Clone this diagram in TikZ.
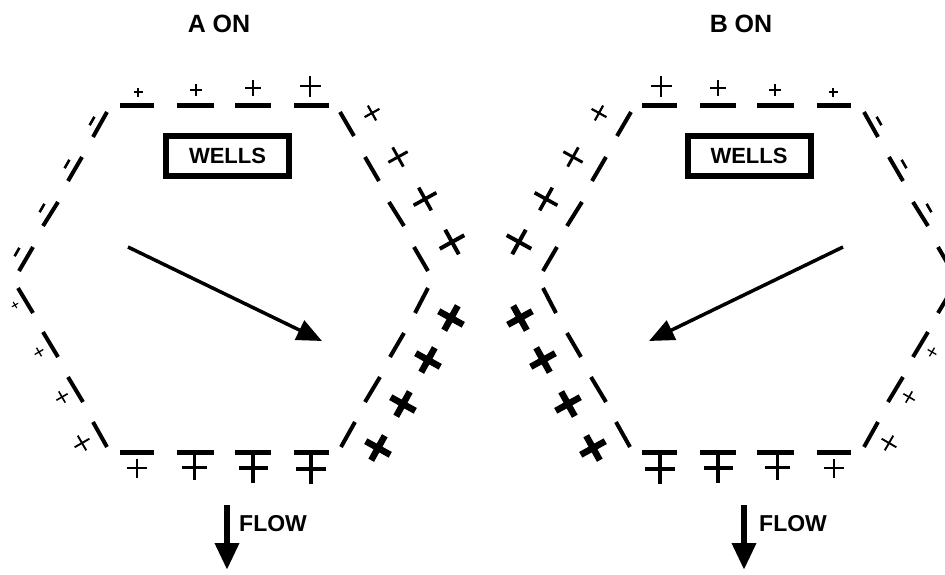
\documentclass[tikz,border=0pt]{standalone}
\usepackage{fontspec}
\setmainfont{Liberation Sans}
\usetikzlibrary{arrows.meta}
\tikzset{
  hdash/.style={line width=5pt},
  sdash/.style={line width=4pt},
  bigarrow/.style={line width=3.5pt,-{Triangle[length=25pt,width=21pt]}},
  flowarrow/.style={line width=6.5pt,-{Triangle[length=27pt,width=23pt]}},
  lbl/.style={font=\fontsize{23}{27}\selectfont\bfseries,inner sep=0pt},
  ttl/.style={font=\fontsize{25}{30}\selectfont\bfseries,inner sep=0pt},
  wellbox/.style={draw,line width=6pt,minimum width=123pt,minimum height=40pt,
    inner sep=0pt,font=\fontsize{22}{26}\selectfont\bfseries},
}
% plus sign: x, y, rotation, half arm, thickness
\newcommand\plusmark[5]{\begin{scope}[shift={(#1,#2)},rotate=#3]
  \draw[line width=#5pt] (-#4,0)--(#4,0) (0,-#4)--(0,#4);\end{scope}}
% minus-over-plus: x, ytop, ybar, ybottom, half, thickness
\newcommand\mpmark[6]{\draw[line width=#6pt] (#1-#5,#3)--(#1+#5,#3) (#1,#2)--(#1,#4);}
% small tick parallel to upper-left edge: cx, cy
\newcommand\tickmark[2]{\draw[line width=2.6pt] (#1+2.4,#2-4.2)--(#1-2.4,#2+4.2);}
\newcommand\halfpic[1]{%
  % top edge
  \foreach \a/\b in {120/154,177/214,235/271,294/329}{\draw[hdash] (\a,105.5)--(\b,105.5);}
  % bottom edge
  \foreach \a/\b in {120/154,177/214,235/271,294/329}{\draw[hdash] (\a,452.5)--(\b,452.5);}
  % upper-left edge
  \draw[sdash] (107,112)--(93,137) (82,157)--(68,181) (58,202)--(43,226) (33,247)--(19,271);
  % lower-left edge
  \draw[sdash] (18,288)--(33,313) (43,332)--(58,357) (68,377)--(83,402) (93,422)--(107,447);
  % upper-right edge
  \draw[sdash] (340,112)--(354,136) (365,157)--(379,181) (389,202)--(404,226) (414,247)--(428,271);
  % lower-right edge
  \draw[sdash] (428,288)--(415,313) (404,333)--(390,357) (380,377)--(365,402) (355,422)--(341,447);
  % top plus signs
  \plusmark{138}{92}{0}{4.5}{1.5}
  \plusmark{196}{90}{0}{6}{1.7}
  \plusmark{253}{88}{0}{8}{2}
  \plusmark{310}{86}{0}{10.5}{2.3}
  % bottom minus-plus signs
  \mpmark{137}{459}{468}{478}{10}{2}
  \mpmark{194}{455}{467}{480}{12.5}{3}
  \mpmark{253}{455}{468}{483}{14.5}{4}
  \mpmark{311}{455}{469}{484}{15}{4.6}
  % upper-left ticks
  \tickmark{92}{121}\tickmark{67}{164}\tickmark{42}{208}\tickmark{17}{252}
  % lower-left small plus signs
  \plusmark{15}{305}{30}{3.5}{1.1}
  \plusmark{39}{352}{30}{5}{1.3}
  \plusmark{62}{397}{30}{6.5}{1.6}
  \plusmark{82}{443}{30}{8.5}{1.9}
  % upper-right plus signs
  \plusmark{372}{113}{29}{8.5}{2.2}
  \plusmark{398}{157}{29}{11}{2.9}
  \plusmark{425}{199}{29}{13}{3.6}
  \plusmark{452}{242}{29}{14}{4}
  % lower-right bold plus signs
  \plusmark{451}{318}{61}{14}{6.5}
  \plusmark{428}{360}{61}{14}{6.5}
  \plusmark{403}{404}{61}{14}{6.5}
  \plusmark{378}{448}{61}{14}{6.5}
  % main arrow
  \coordinate (#1s) at (128,247);
  \coordinate (#1e) at (322,341);
  \draw[bigarrow] (#1s)--(#1e);
  % flow arrow
  \coordinate (#1fs) at (227,505);
  \coordinate (#1fe) at (227,570);
  \draw[flowarrow] (#1fs)--(#1fe);
}
\begin{document}
\begin{tikzpicture}[x=1pt,y=-1pt]
  \useasboundingbox (0,0) rectangle (945,574);
  \fill[white] (0,0) rectangle (945,574);
  \clip (0,0) rectangle (945,574);
  \halfpic{a}
  \begin{scope}[xshift=971pt,xscale=-1]
    \halfpic{b}
  \end{scope}
  \node[ttl,anchor=base] (atitle) at (219,32) {A ON};
  \node[ttl,anchor=base] (btitle) at (741,32) {B ON};
  \node[wellbox] (awells) at (227.5,156) {WELLS};
  \node[wellbox] (bwells) at (749,156) {WELLS};
  \node[lbl,anchor=base west] (aflow) at (239,531) {FLOW};
  \node[lbl,anchor=base west] (bflow) at (759,531) {FLOW};
\end{tikzpicture}
\end{document}
